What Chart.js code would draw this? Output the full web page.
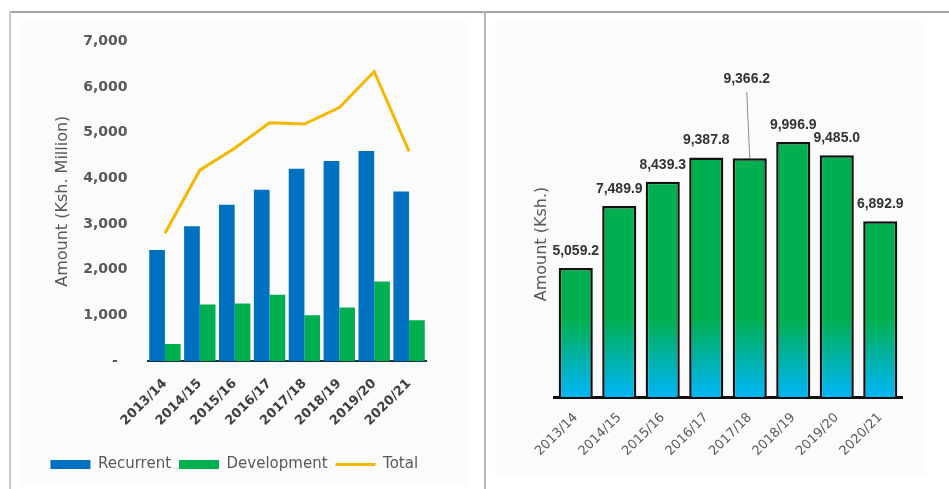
<!DOCTYPE html>
<html>
<head>
<meta charset="utf-8">
<title>Recurrent and Development Expenditure</title>
<script src="https://cdn.jsdelivr.net/npm/chart.js@4.4.1/dist/chart.umd.min.js"></script>
<style>
    html, body { margin: 0; padding: 0; background: #fff; }
    body { width: 949px; height: 489px; position: relative; overflow: hidden; }
    .rule { position: absolute; }
    .panel { position: absolute; background: #fbfbfb; }
    .box { position: absolute; }
</style>
</head>
<body>
<div class="panel" style="left:20px; top:22px; width:447px; height:463px;"></div>
<div class="panel" style="left:495px; top:22px; width:430px; height:453px;"></div>
<div class="rule" style="left:10px; top:11px; width:939px; height:2px; background:#a3a3a3;"></div>
<div class="rule" style="left:9px; top:11px; width:2px; height:478px; background:#c8c8c8;"></div>
<div class="rule" style="left:484px; top:11px; width:2px; height:478px; background:#b5b5b5;"></div>

<div class="box" style="left:12px; top:13px; width:472px; height:465px;"><canvas id="spendChart"></canvas></div>
<div class="box" style="left:487px; top:13px; width:462px; height:465px;"><canvas id="amountChart"></canvas></div>

<script>
// Financial years shared by both charts
const years = ['2013/14', '2014/15', '2015/16', '2016/17', '2017/18', '2018/19', '2019/20', '2020/21'];

// Left chart, Ksh. Million
const recurrent = [2430, 2950, 3420, 3750, 4210, 4380, 4600, 3710];
const development = [370, 1240, 1260, 1450, 1000, 1170, 1740, 890];
const total = [2800, 4180, 4660, 5220, 5190, 5550, 6340, 4590];
const spendTicks = [0, 1000, 2000, 3000, 4000, 5000, 6000, 7000];

// Right chart, Ksh.
const amounts = [5059.2, 7489.9, 8439.3, 9387.8, 9366.2, 9996.9, 9485.0, 6892.9];
const calloutIndex = 4;

const GREY = '#595959';

function fmtThousands(v) {
    return v.toLocaleString('en-US');
}

function fmtAmount(v) {
    return v.toLocaleString('en-US', { minimumFractionDigits: 1, maximumFractionDigits: 1 });
}

function initializeSpendChart() {
    const ctx = document.getElementById('spendChart');
    new Chart(ctx, {
        type: 'bar',
        data: {
            labels: years,
            datasets: [{
                label: 'Recurrent',
                data: recurrent,
                backgroundColor: '#0070c0',
                pointStyle: 'rect',
                categoryPercentage: 0.9,
                barPercentage: 1.0
            }, {
                label: 'Development',
                data: development,
                backgroundColor: '#00b050',
                pointStyle: 'rect',
                categoryPercentage: 0.9,
                barPercentage: 1.0
            }, {
                type: 'line',
                label: 'Total',
                data: total,
                borderColor: '#f5b800',
                backgroundColor: '#f5b800',
                borderWidth: 3,
                pointRadius: 0,
                pointStyle: 'line',
                tension: 0
            }]
        },
        options: {
            responsive: true,
            maintainAspectRatio: false,
            animation: false,
            layout: { padding: { left: 30, right: 57.5, top: 25, bottom: -4 } },
            plugins: {
                tooltip: { enabled: false },
                legend: {
                    position: 'bottom',
                    labels: {
                        usePointStyle: true,
                        pointStyleWidth: 40,
                        boxHeight: 9,
                        padding: 8,
                        color: GREY,
                        font: { family: 'DejaVu Sans', size: 15 }
                    }
                }
            },
            scales: {
                x: {
                    grid: { display: false, drawTicks: false },
                    border: { display: true, color: '#1f2d3a', width: 2 },
                    ticks: {
                        minRotation: 45,
                        maxRotation: 45,
                        padding: 15,
                        color: '#404040',
                        font: { family: 'DejaVu Sans', size: 13, weight: 'bold' }
                    },
                    afterFit: function(scale) { scale.height = 88; }
                },
                y: {
                    min: 0,
                    max: 7000,
                    afterBuildTicks: function(scale) {
                        scale.ticks = spendTicks.map(v => ({ value: v }));
                    },
                    grid: { display: false, drawTicks: false },
                    border: { display: false },
                    ticks: {
                        padding: 20,
                        color: GREY,
                        font: { family: 'DejaVu Sans', size: 14, weight: 'bold' },
                        callback: v => v === 0 ? '-  ' : fmtThousands(v)
                    },
                    title: {
                        display: true,
                        text: 'Amount (Ksh. Million)',
                        color: GREY,
                        padding: { top: 11, bottom: 0 },
                        font: { family: 'DejaVu Sans', size: 16 }
                    },
                    afterFit: function(scale) { scale.width = 105.5; }
                }
            }
        }
    });
}

// Value labels above the bars, one of them raised with a leader line
const valueLabels = {
    id: 'valueLabels',
    afterDatasetsDraw(chart) {
        const c = chart.ctx;
        const meta = chart.getDatasetMeta(0);
        c.save();
        c.font = 'bold 14px "Liberation Sans"';
        c.fillStyle = '#333333';
        c.textAlign = 'center';
        c.textBaseline = 'middle';
        meta.data.forEach((bar, i) => {
            let y = bar.y - 17;
            if (i === calloutIndex) {
                y = bar.y - 79;
                c.beginPath();
                c.strokeStyle = '#8c8c8c';
                c.lineWidth = 1;
                c.moveTo(bar.x - 3, y + 13);
                c.lineTo(bar.x, bar.y);
                c.stroke();
                c.fillText(fmtAmount(amounts[i]), bar.x - 3, y);
            } else {
                c.fillText(fmtAmount(amounts[i]), bar.x, y);
            }
        });
        c.restore();
    }
};

function barGradient(context) {
    const chart = context.chart;
    const area = chart.chartArea;
    if (!area) return '#00b050';
    const g = chart.ctx.createLinearGradient(0, area.bottom - 78, 0, area.bottom - 6);
    g.addColorStop(0, '#00b050');
    g.addColorStop(1, '#00b4ec');
    return g;
}

function initializeAmountChart() {
    const ctx = document.getElementById('amountChart');
    new Chart(ctx, {
        type: 'bar',
        data: {
            labels: years,
            datasets: [{
                label: 'Amount',
                data: amounts,
                backgroundColor: barGradient,
                borderColor: '#111111',
                borderWidth: 2.5,
                categoryPercentage: 0.8,
                barPercentage: 0.98
            }]
        },
        options: {
            responsive: true,
            maintainAspectRatio: false,
            animation: false,
            layout: { padding: { left: 41, right: 47, top: 78, bottom: 0 } },
            plugins: {
                tooltip: { enabled: false },
                legend: { display: false }
            },
            scales: {
                x: {
                    grid: { display: false, drawTicks: false },
                    border: { display: true, color: '#111111', width: 3 },
                    ticks: {
                        minRotation: 45,
                        maxRotation: 45,
                        padding: 13,
                        color: GREY,
                        font: { family: 'DejaVu Sans', size: 13 }
                    },
                    afterFit: function(scale) { scale.height = 81; }
                },
                y: {
                    min: 0,
                    max: 12000,
                    grid: { display: false, drawTicks: false },
                    border: { display: false },
                    ticks: { display: false },
                    title: {
                        display: true,
                        text: 'Amount (Ksh.)',
                        color: GREY,
                        padding: { top: 4, bottom: 0 },
                        font: { family: 'DejaVu Sans', size: 16 }
                    },
                    afterFit: function(scale) { scale.width = 26; }
                }
            }
        },
        plugins: [valueLabels]
    });
}

document.addEventListener('DOMContentLoaded', function() {
    initializeSpendChart();
    initializeAmountChart();
});
</script>
</body>
</html>
